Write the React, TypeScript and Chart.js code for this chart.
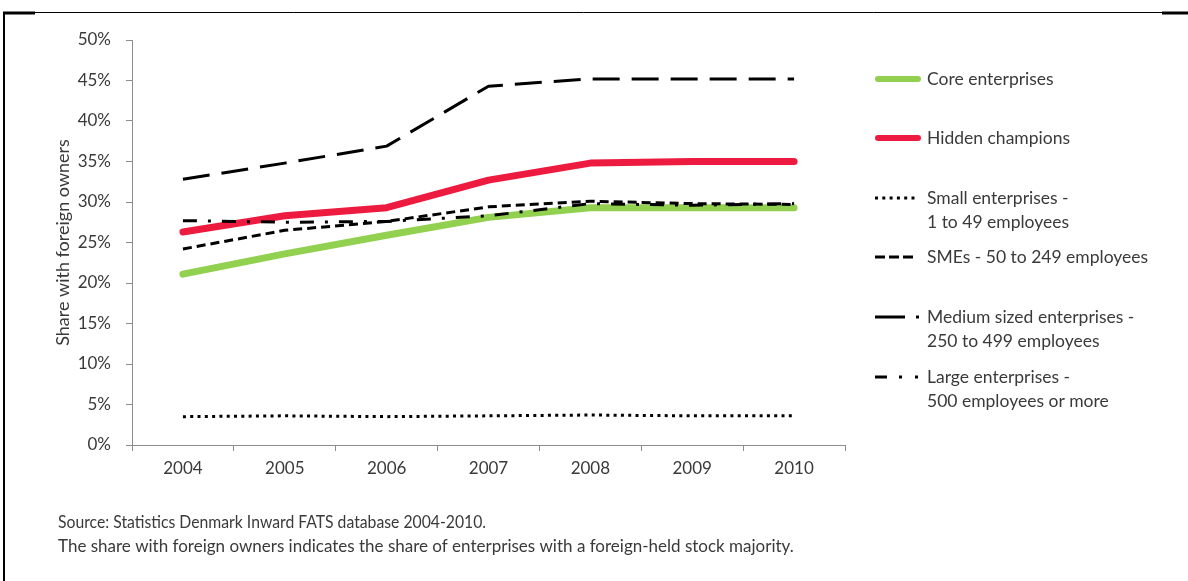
import React, { useEffect, useRef } from 'react';
import { Chart, registerables } from 'chart.js';

Chart.register(...registerables);

const years = ['2004', '2005', '2006', '2007', '2008', '2009', '2010'];
const coreEnterprises = [21.1, 23.6, 25.9, 28.1, 29.3, 29.3, 29.3];
const hiddenChampions = [26.3, 28.3, 29.3, 32.7, 34.8, 35.0, 35.0];
const smallEnterprises = [3.5, 3.6, 3.5, 3.6, 3.7, 3.6, 3.6];
const smeEnterprises = [24.2, 26.5, 27.6, 29.4, 30.1, 29.8, 29.7];
const mediumEnterprises = [32.8, 34.8, 36.9, 44.3, 45.2, 45.2, 45.2];
const largeEnterprises = [27.7, 27.5, 27.6, 28.3, 29.8, 29.6, 29.8];
const yTicks = [0, 5, 10, 15, 20, 25, 30, 35, 40, 45, 50];
const seriesLabels = [
  'Core enterprises',
  'Hidden champions',
  'Small enterprises -\n1 to 49 employees',
  'SMEs - 50 to 249 employees',
  'Medium sized enterprises -\n250 to 499 employees',
  'Large enterprises -\n500 employees or more',
];
const yTitle = 'Share with foreign owners';
const notes = [
  'Source: Statistics Denmark Inward FATS database 2004-2010.',
  'The share with foreign owners indicates the share of enterprises with a foreign-held stock majority.',
];

const FONT = 'Lato, "Noto Sans", sans-serif';
const TEXT = '#3a3a3a';
const AXIS = '#8c8c8c';

// legend row y-centres (first line) and sample lengths
const legendRows = [79, 138, 198, 257, 317, 377];
const legendDash: (number[] | null)[] = [null, null, [3, 4.3], [10, 4], [30, 11, 3, 200], [12, 12, 3, 13, 3, 200]];
const legendLen = [46, 46, 40, 41, 46, 46];
const noteWidths = [428, 764];

const overlay = {
  id: 'overlay',
  beforeDraw(chart: any) {
    const ctx = chart.ctx;
    ctx.save();
    ctx.fillStyle = '#ffffff';
    ctx.fillRect(0, 0, chart.width, chart.height);
    ctx.restore();
  },
  afterDraw(chart: any) {
    const ctx = chart.ctx;
    ctx.save();
    // frame
    ctx.strokeStyle = '#000';
    ctx.lineWidth = 2;
    ctx.beginPath();
    ctx.moveTo(4, 12);
    ctx.lineTo(4, chart.height);
    ctx.stroke();
    ctx.lineWidth = 1;
    ctx.beginPath();
    ctx.moveTo(4, 12.5);
    ctx.lineTo(1163, 12.5);
    ctx.stroke();
    ctx.lineWidth = 3;
    ctx.beginPath();
    ctx.moveTo(3, 13);
    ctx.lineTo(35, 13);
    ctx.moveTo(1162, 13);
    ctx.lineTo(1188, 13);
    ctx.stroke();

    // legend
    const ds = chart.data.datasets;
    ctx.font = `17.5px ${FONT}`;
    ctx.textBaseline = 'middle';
    ds.forEach((d: any, i: number) => {
      const y = legendRows[i];
      ctx.save();
      ctx.strokeStyle = d.borderColor;
      ctx.lineWidth = i < 2 ? 6 : 3;
      ctx.lineCap = i < 2 ? 'round' : 'butt';
      ctx.setLineDash(legendDash[i] || []);
      ctx.beginPath();
      ctx.moveTo(i < 2 ? 878 : 875, y);
      ctx.lineTo(875 + legendLen[i] - (i < 2 ? 3 : 0), y);
      ctx.stroke();
      ctx.restore();
      ctx.fillStyle = TEXT;
      String(d.label)
        .split('\n')
        .forEach((line: string, k: number) => {
          ctx.fillText(line, 927, y + k * 24);
        });
    });

    // notes
    ctx.font = `17px ${FONT}`;
    ctx.fillStyle = TEXT;
    notes.forEach((n, k) => ctx.fillText(n, 58, 523 + k * 24, noteWidths[k]));
    ctx.restore();
  },
};

export default function App() {
  const ref = useRef<HTMLCanvasElement>(null);
  useEffect(() => {
    if (!ref.current) return;
    const mk = (label: string, data: number[], color: string, width: number, dash: number[], order: number, cap: string) => ({
      label,
      data,
      borderColor: color,
      backgroundColor: color,
      borderWidth: width,
      borderDash: dash,
      borderCapStyle: cap,
      borderJoinStyle: 'round',
      pointRadius: 0,
      pointHoverRadius: 0,
      tension: 0,
      fill: false,
      order,
    });
    const chart = new Chart(ref.current, {
      type: 'line',
      data: {
        labels: years,
        datasets: [
          mk(seriesLabels[0], coreEnterprises, '#92d050', 7, [], 10, 'round'),
          mk(seriesLabels[1], hiddenChampions, '#ed1b3f', 7, [], 9, 'round'),
          mk(seriesLabels[2], smallEnterprises, '#000000', 3, [3, 4.3], 4, 'butt'),
          mk(seriesLabels[3], smeEnterprises, '#000000', 3, [9, 5], 3, 'butt'),
          mk(seriesLabels[4], mediumEnterprises, '#000000', 3, [27, 12], 2, 'butt'),
          mk(seriesLabels[5], largeEnterprises, '#000000', 3, [14, 11, 3, 11], 1, 'butt'),
        ] as any,
      },
      options: {
        animation: false,
        responsive: true,
        maintainAspectRatio: false,
        layout: { padding: { left: 0, top: 40, right: 343, bottom: 0 } },
        plugins: { legend: { display: false }, tooltip: { enabled: false } },
        scales: {
          x: {
            offset: true,
            grid: { offset: true, drawOnChartArea: false, drawTicks: true, tickLength: 6, color: AXIS },
            border: { color: AXIS, width: 1 },
            ticks: { color: TEXT, font: { family: FONT, size: 17 }, padding: 7, maxRotation: 0 },
            afterFit: (s: any) => {
              s.height = 136;
            },
          },
          y: {
            min: 0,
            max: 50,
            afterBuildTicks: (s: any) => {
              s.ticks = yTicks.map((v) => ({ value: v }));
            },
            afterFit: (s: any) => {
              s.width = 132;
            },
            grid: { drawOnChartArea: false, drawTicks: true, tickLength: 6, color: AXIS },
            border: { color: AXIS, width: 1 },
            ticks: {
              color: TEXT,
              font: { family: FONT, size: 17 },
              padding: 15,
              callback: (v: any) => `${v}%`,
            },
            title: {
              display: true,
              text: yTitle,
              color: TEXT,
              font: { family: FONT, size: 18 },
              padding: { top: 52, bottom: 0 },
            },
          },
        },
      } as any,
      plugins: [overlay],
    });
    return () => chart.destroy();
  }, []);
  return (
    <div style={{ position: 'fixed', left: 0, top: 0, width: 1188, height: 581, background: '#fff' }}>
      <canvas ref={ref} />
    </div>
  );
}
